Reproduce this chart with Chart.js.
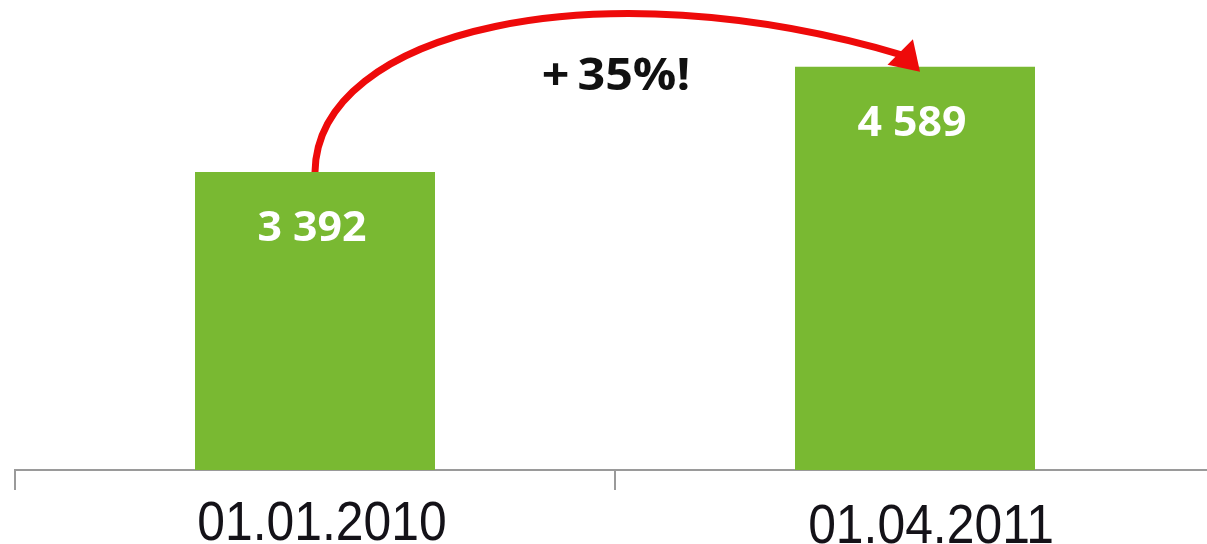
<!DOCTYPE html>
<html>
<head>
<meta charset="UTF-8">
<title>Growth</title>
<script src="https://cdn.jsdelivr.net/npm/chart.js"></script>
<style>
  html, body { margin: 0; padding: 0; background: #ffffff; overflow: hidden; }
  .wrap { width: 1215px; height: 544px; }
</style>
</head>
<body>
<div class="wrap"><canvas id="growth"></canvas></div>
<script>
const dates = ['01.01.2010', '01.04.2011'];
const clients = [3392, 4589];

const fmt = v => String(v).replace(/\B(?=(\d{3})+(?!\d))/g, ' ');

// draw text squeezed or stretched horizontally around (x, y)
function wideText(ctx, text, x, y, sx) {
  ctx.save();
  ctx.translate(x, y);
  ctx.scale(sx, 1);
  ctx.fillText(text, 0, 0);
  ctx.restore();
}

// date labels under the axis, drawn narrow and tall
const dateLabels = {
  id: 'dateLabels',
  afterDraw(chart) {
    const ctx = chart.ctx;
    const x = chart.scales.x;
    const shift = [[7, 0], [16, 3]];
    ctx.save();
    ctx.fillStyle = '#141218';
    ctx.font = '56px "Liberation Sans", Arial, sans-serif';
    ctx.textAlign = 'center';
    ctx.textBaseline = 'alphabetic';
    dates.forEach((d, i) => {
      wideText(ctx, d, x.getPixelForTick(i) + shift[i][0], chart.chartArea.bottom + 70 + shift[i][1], 0.89);
    });
    ctx.restore();
  }
};

// value labels inside the bars, the red arrow and the growth note
const overlay = {
  id: 'overlay',
  afterDatasetsDraw(chart) {
    const ctx = chart.ctx;
    const bars = chart.getDatasetMeta(0).data;
    ctx.save();

    ctx.fillStyle = '#ffffff';
    ctx.font = 'bold 42px "Open Sans", sans-serif';
    ctx.textAlign = 'center';
    ctx.textBaseline = 'alphabetic';
    bars.forEach((b, i) => wideText(ctx, fmt(clients[i]), b.x - 3, b.y + 69, 1.02));

    const a = bars[0], b = bars[1];
    const tip = [b.x + 5, b.y + 5];
    const ang = Math.PI / 4;
    const len = 28, w = 18;
    const base = [tip[0] - Math.cos(ang) * len, tip[1] - Math.sin(ang) * len];
    ctx.strokeStyle = '#ee0a0a';
    ctx.fillStyle = '#ee0a0a';
    ctx.lineWidth = 7;
    ctx.lineCap = 'butt';
    ctx.beginPath();
    ctx.moveTo(a.x, a.y);
    ctx.bezierCurveTo(a.x + 2, a.y - 142, b.x - 317, b.y - 102, base[0] + 2, base[1] + 3);
    ctx.stroke();
    ctx.beginPath();
    ctx.moveTo(tip[0], tip[1]);
    ctx.lineTo(base[0] - Math.sin(ang) * w, base[1] + Math.cos(ang) * w);
    ctx.lineTo(base[0] + Math.sin(ang) * w, base[1] - Math.cos(ang) * w);
    ctx.closePath();
    ctx.fill();

    const pct = Math.round((clients[1] / clients[0] - 1) * 100);
    ctx.fillStyle = '#111111';
    ctx.font = 'bold 44px "Open Sans", sans-serif';
    wideText(ctx, '+\u2009' + pct + '%!', (a.x + b.x) / 2 + 1, chart.chartArea.top + 90, 1.1);
    ctx.restore();
  }
};

new Chart(document.getElementById('growth'), {
  type: 'bar',
  data: {
    labels: dates,
    datasets: [{
      data: clients,
      backgroundColor: '#79b932',
      barPercentage: 0.8,
      categoryPercentage: 0.5
    }]
  },
  options: {
    responsive: true,
    maintainAspectRatio: false,
    animation: false,
    layout: { padding: { left: 15, right: 0, top: 0, bottom: 0 } },
    plugins: { legend: { display: false }, tooltip: { enabled: false } },
    scales: {
      x: {
        afterFit(scale) { scale.height = 74; },
        border: { color: '#9a9a9a', width: 2 },
        grid: { drawOnChartArea: false, drawTicks: true, tickLength: 20, color: '#9a9a9a', lineWidth: 2 },
        ticks: { display: false }
      },
      y: { display: false, min: 0, max: 5350 }
    }
  },
  plugins: [overlay, dateLabels]
});
</script>
</body>
</html>
